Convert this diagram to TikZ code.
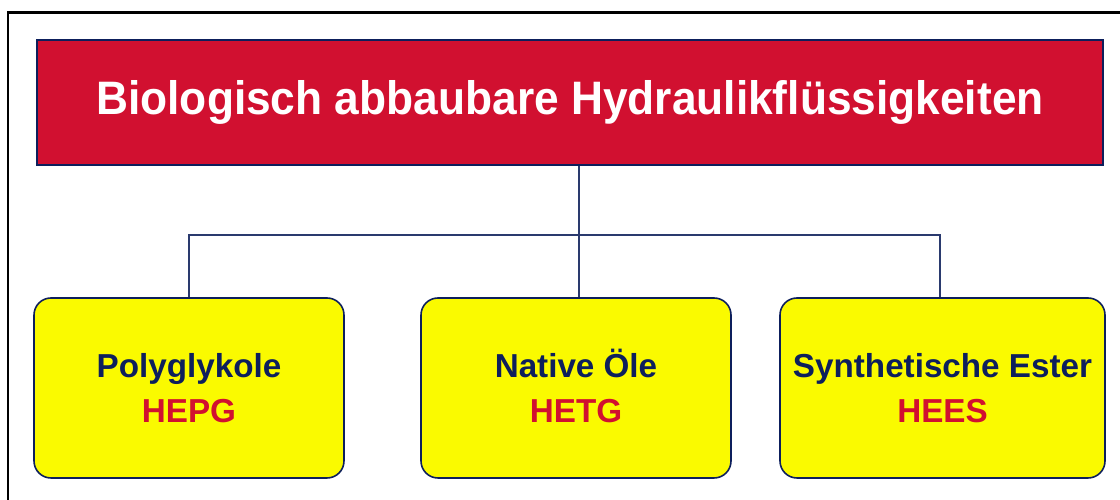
\documentclass[tikz,border=0pt]{standalone}
\usepackage{fontspec}
\setmainfont{Liberation Sans}
\usepackage{tikz}
\usetikzlibrary{positioning, calc}

\definecolor{hfred}{HTML}{D11030}
\definecolor{hfnavy}{HTML}{0D1F5C}
\definecolor{hfline}{HTML}{2A3A6E}
\definecolor{hfyellow}{HTML}{FAFA00}

\begin{document}
\begin{tikzpicture}[
    title/.style={draw=hfnavy, line width=0.9pt, fill=hfred, text=white, font=\fontsize{25.2}{30}\selectfont\bfseries, minimum width=21.32cm, minimum height=2.5cm, inner sep=0pt},
    group/.style={draw=hfnavy, line width=0.9pt, fill=hfyellow, rounded corners=0.34cm, text=hfnavy, align=center, font=\fontsize{18.9}{25.5}\selectfont\bfseries, minimum height=3.6cm, inner sep=0pt},
    link/.style={draw=hfline, line width=0.85pt},
    ]

    \useasboundingbox (0,0) rectangle (22.4,10);
    \clip (0,0) rectangle (22.4,10);

    % outer frame (cut off right and bottom)
    \draw[line width=1.7pt] (0.16,-1) rectangle (23,9.74);

    % Title
    \node[title] (bio) at (11.40,7.95) {\scalebox{1}[1.06]{Biologisch abbaubare Hydraulikflüssigkeiten}};

    % Groups
    \node[group, minimum width=6.2cm] (hepg) at (3.78,2.24) {Polyglykole\\{\color{hfred}HEPG}};
    \node[group, minimum width=6.2cm] (hetg) at (11.52,2.24) {Native \smash{Ö}le\\{\color{hfred}HETG}};
    \node[group, minimum width=6.5cm] (hees) at (18.85,2.24) {Synthetische Ester\\{\color{hfred}HEES}};

    % Connectors
    \coordinate (bus) at (0,5.30);
    \draw[link] ([xshift=0.06cm]bio.south -| hetg.north) -- ([xshift=0.06cm]hetg.north);
    \draw[link] (hepg.north) -- (hepg.north |- bus) -- ([xshift=-0.05cm]hees.north |- bus) -- ([xshift=-0.05cm]hees.north);
\end{tikzpicture}
\end{document}
